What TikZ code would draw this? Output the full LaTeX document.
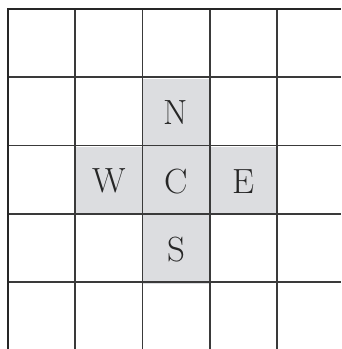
\documentclass[tikz,border=0pt]{standalone}
\usepackage{fontspec}
\begin{document}
\begin{tikzpicture}[x=1pt,y=-1pt,
  cellbox/.style={fill=shade,draw=none,text=black!85,minimum width=67.25pt,minimum height=68.25pt,inner sep=0pt,font=\fontsize{35}{38}\selectfont},
  gridline/.style={draw=gridc,line width=1.9pt}]
\definecolor{shade}{HTML}{DCDDE0}
\definecolor{gridc}{HTML}{3A3A3A}
\useasboundingbox (0,0) rectangle (341,349);
\fill[white] (0,0) rectangle (341,349);
\def\xs{67.25}\def\ys{68.25}
\node[cellbox] (N) at (8+2.5*\xs, 9+1.5*\ys+1.5) {N};
\node[cellbox] (W) at (8+1.5*\xs, 9+2.5*\ys+1.5) {W};
\node[cellbox] (C) at (8+2.5*\xs, 9+2.5*\ys+1.5) {C};
\node[cellbox] (E) at (8+3.5*\xs, 9+2.5*\ys+1.5) {E};
\node[cellbox] (S) at (8+2.5*\xs, 9+3.5*\ys+1.5) {S};
\foreach \i in {0,...,4} {
  \draw[gridline] (8+\i*\xs, 9) -- (8+\i*\xs, 349);
  \draw[gridline] (8, 9+\i*\ys) -- (341, 9+\i*\ys);
}
\draw[draw=black!85,line width=2.2pt] (8,349) -- (8,9) -- (341,9);
\end{tikzpicture}
\end{document}
